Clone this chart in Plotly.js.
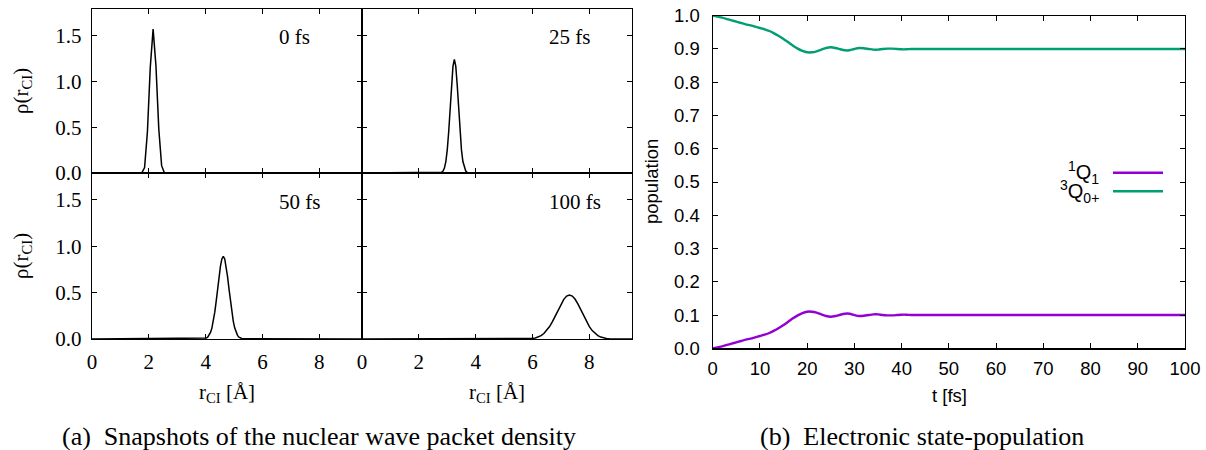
<!DOCTYPE html>
<html>
<head>
<meta charset="utf-8">
<script src="https://cdn.plot.ly/plotly-3.0.1.min.js"></script>
<style>html,body{margin:0;padding:0;background:#fff;}#plot{width:1206px;height:450px;}</style>
</head>
<body>
<div id="plot"></div>
<script>
// ---------- Data: wave packet snapshots ----------
const r0fs   = [0, 1.75, 1.85, 1.95, 2.05, 2.15, 2.25, 2.35, 2.45, 2.55, 9.5];
const rho0fs = [0, 0.00, 0.06, 0.45, 1.15, 1.57, 1.17, 0.48, 0.08, 0.00, 0];

const r25fs   = [0, 2.75, 2.80, 2.85, 2.90, 2.95, 3.00, 3.05, 3.10, 3.15, 3.20, 3.25, 3.30, 3.35, 3.40, 3.45, 3.50, 3.55, 3.60, 3.65, 3.70, 3.75, 9.5];
const rho25fs = [0, 0.000, 0.007, 0.021, 0.054, 0.125, 0.252, 0.447, 0.699, 0.961, 1.163, 1.240, 1.163, 0.961, 0.699, 0.447, 0.252, 0.125, 0.054, 0.021, 0.007, 0.000, 0];

const r50fs   = [0, 3.92, 3.97, 4.02, 4.07, 4.12, 4.17, 4.22, 4.27, 4.32, 4.37, 4.42, 4.47, 4.52, 4.57, 4.62, 4.67, 4.72, 4.77, 4.82, 4.87, 4.92, 4.97, 5.02, 5.07, 5.12, 5.17, 5.22, 5.27, 5.32, 9.5];
const rho50fs = [0, 0.002, 0.005, 0.010, 0.020, 0.039, 0.071, 0.120, 0.193, 0.289, 0.408, 0.540, 0.672, 0.785, 0.863, 0.890, 0.863, 0.785, 0.672, 0.540, 0.408, 0.289, 0.193, 0.120, 0.071, 0.039, 0.020, 0.010, 0.005, 0.002, 0];

const r100fs   = [0, 5.8, 5.9, 6.0, 6.1, 6.2, 6.3, 6.4, 6.5, 6.6, 6.7, 6.8, 6.9, 7.0, 7.1, 7.2, 7.3, 7.4, 7.5, 7.6, 7.7, 7.8, 7.9, 8.0, 8.1, 8.2, 8.3, 8.4, 8.5, 8.6, 8.7, 8.8, 9.5];
const rho100fs = [0, 0.001, 0.003, 0.006, 0.011, 0.021, 0.036, 0.059, 0.091, 0.134, 0.187, 0.249, 0.314, 0.376, 0.428, 0.463, 0.475, 0.463, 0.428, 0.376, 0.314, 0.249, 0.187, 0.134, 0.091, 0.059, 0.036, 0.021, 0.011, 0.006, 0.003, 0.001, 0];

const snapshotLabels = ["0 fs", "25 fs", "50 fs", "100 fs"];
const rTicks = [0, 2, 4, 6, 8];
const rhoTicks = [0, 0.5, 1.0, 1.5];

// ---------- Data: state populations ----------
const tFs = [0,1,2,3,4,5,6,7,8,9,10,11,12,13,14,15,16,17,18,19,20,21,22,23,24,25,26,27,28,29,30,31,32,33,34,35,36,37,38,39,40,41,42,43,44,45,50,55,60,65,70,75,80,85,90,95,100];
const pop1Q1 = [0.000,0.003,0.006,0.010,0.014,0.018,0.022,0.026,0.029,0.033,0.037,0.041,0.046,0.053,0.061,0.070,0.080,0.090,0.099,0.106,0.110,0.110,0.107,0.102,0.097,0.095,0.097,0.101,0.104,0.104,0.100,0.097,0.098,0.100,0.102,0.102,0.100,0.099,0.099,0.100,0.101,0.101,0.100,0.100,0.100,0.100,0.100,0.100,0.100,0.100,0.100,0.100,0.100,0.100,0.100,0.100,0.100];
const pop3Q0 = [1.000,0.997,0.994,0.990,0.986,0.982,0.978,0.974,0.971,0.967,0.963,0.959,0.954,0.947,0.939,0.930,0.920,0.910,0.901,0.894,0.890,0.890,0.893,0.898,0.903,0.905,0.903,0.899,0.896,0.896,0.900,0.903,0.902,0.900,0.898,0.898,0.900,0.901,0.901,0.900,0.899,0.899,0.900,0.900,0.900,0.900,0.900,0.900,0.900,0.900,0.900,0.900,0.900,0.900,0.900,0.900,0.900];
const popTicks = [0,0.1,0.2,0.3,0.4,0.5,0.6,0.7,0.8,0.9,1.0];
const tTicks = [0,10,20,30,40,50,60,70,80,90,100];
const stateNames = ["<sup>1</sup>Q<sub>1</sub>", "<sup>3</sup>Q<sub>0+</sub>"];

// ---------- Layout helpers ----------
const W = 1206, H = 450;
const px = v => v / W;
const py = v => 1 - v / H;
const serif = "Liberation Serif";
const sans = "Liberation Sans";

const blackLine = {color: "#000", width: 1.5};
const traces = [
  {x: r0fs,   y: rho0fs,   xaxis: "x",  yaxis: "y",  mode: "lines", line: blackLine, showlegend: false},
  {x: r25fs,  y: rho25fs,  xaxis: "x2", yaxis: "y2", mode: "lines", line: blackLine, showlegend: false},
  {x: r50fs,  y: rho50fs,  xaxis: "x3", yaxis: "y3", mode: "lines", line: blackLine, showlegend: false},
  {x: r100fs, y: rho100fs, xaxis: "x4", yaxis: "y4", mode: "lines", line: blackLine, showlegend: false},
  {x: tFs, y: pop1Q1, xaxis: "x5", yaxis: "y5", mode: "lines", line: {color: "#9400D3", width: 2.4, shape: "spline", smoothing: 0.6}, showlegend: false},
  {x: tFs, y: pop3Q0, xaxis: "x5", yaxis: "y5", mode: "lines", line: {color: "#009E73", width: 2.4, shape: "spline", smoothing: 0.6}, showlegend: false}
];

function baseAxis(extra) {
  return Object.assign({
    showline: true, linecolor: "#000", linewidth: 1.3, mirror: "allticks",
    ticks: "inside", ticklen: 5, tickwidth: 1, tickcolor: "#000",
    showgrid: false, zeroline: false, fixedrange: true
  }, extra);
}
const leftX = (dom, show) => baseAxis({domain: dom, range: [0, 9.5], tickvals: rTicks, showticklabels: show,
  tickfont: {family: serif, size: 21, color: "#000"}, ticklabelstandoff: 3});
const leftY = (dom, show) => baseAxis({domain: dom, range: [0, 1.79], tickvals: rhoTicks, tickformat: ".1f", showticklabels: show,
  tickfont: {family: serif, size: 21, color: "#000"}, ticklabelstandoff: 5});

const dxL = [px(92), px(362)], dxR = [px(362), px(632)];
const dyT = [py(173), py(9)], dyB = [py(339), py(173)];

const layout = {
  width: W, height: H,
  margin: {l: 0, r: 0, t: 0, b: 0, pad: 0},
  paper_bgcolor: "#fff", plot_bgcolor: "rgba(0,0,0,0)",
  showlegend: false,
  font: {family: serif, color: "#000"},
  xaxis:  Object.assign(leftX(dxL, false), {anchor: "y"}),
  yaxis:  Object.assign(leftY(dyT, true),  {anchor: "x"}),
  xaxis2: Object.assign(leftX(dxR, false), {anchor: "y2"}),
  yaxis2: Object.assign(leftY(dyT, false), {anchor: "x2"}),
  xaxis3: Object.assign(leftX(dxL, true),  {anchor: "y3"}),
  yaxis3: Object.assign(leftY(dyB, true),  {anchor: "x3"}),
  xaxis4: Object.assign(leftX(dxR, true),  {anchor: "y4"}),
  yaxis4: Object.assign(leftY(dyB, false), {anchor: "x4"}),
  xaxis5: baseAxis({anchor: "y5", domain: [px(712.7), px(1185)], range: [0, 100], tickvals: tTicks,
    tickfont: {family: sans, size: 18.5, color: "#000"}, ticklabelstandoff: 3, linewidth: 1.2}),
  yaxis5: baseAxis({anchor: "x5", domain: [py(348.3), py(15.7)], range: [0, 1.0], tickvals: popTicks, tickformat: ".1f",
    tickfont: {family: sans, size: 18.5, color: "#000"}, ticklabelstandoff: 8, linewidth: 1.2}),
  annotations: [],
  shapes: []
};

// snapshot labels
const snapAxes = [["x","y"],["x2","y2"],["x3","y3"],["x4","y4"]];
snapshotLabels.forEach((t, i) => {
  layout.annotations.push({text: t, xref: snapAxes[i][0], yref: snapAxes[i][1], x: 6.5, y: 1.48,
    xanchor: "left", yanchor: "middle", showarrow: false, font: {family: serif, size: 21, color: "#000"}});
});
// left axis titles
[91, 256].forEach(yc => layout.annotations.push({text: "ρ(r<sub>CI</sub>)", xref: "paper", yref: "paper",
  x: px(22), y: py(yc), xanchor: "center", yanchor: "middle", textangle: -90, showarrow: false,
  font: {family: serif, size: 21, color: "#000"}}));
[227, 497].forEach(xc => layout.annotations.push({text: "r<sub>CI</sub> [Å]", xref: "paper", yref: "paper",
  x: px(xc), y: py(393), xanchor: "center", yanchor: "middle", showarrow: false,
  font: {family: serif, size: 21, color: "#000"}}));
// right axis titles
layout.annotations.push({text: "population", xref: "paper", yref: "paper", x: px(652), y: py(182),
  xanchor: "center", yanchor: "middle", textangle: -90, showarrow: false, font: {family: sans, size: 18.5, color: "#000"}});
layout.annotations.push({text: "t [fs]", xref: "paper", yref: "paper", x: px(949), y: py(395),
  xanchor: "center", yanchor: "middle", showarrow: false, font: {family: sans, size: 18.5, color: "#000"}});
// captions
layout.annotations.push({text: "(a)  Snapshots of the nuclear wave packet density", xref: "paper", yref: "paper",
  x: px(60), y: py(436), xanchor: "left", yanchor: "middle", showarrow: false, font: {family: serif, size: 26, color: "#000"}});
layout.annotations.push({text: "(b)  Electronic state-population", xref: "paper", yref: "paper",
  x: px(758), y: py(436), xanchor: "left", yanchor: "middle", showarrow: false, font: {family: serif, size: 26, color: "#000"}});
// legend
const legY = [172.7, 191.3];
const legCol = ["#9400D3", "#009E73"];
stateNames.forEach((n, i) => {
  layout.annotations.push({text: n, xref: "paper", yref: "paper", x: px(1101), y: py(legY[i]),
    xanchor: "right", yanchor: "middle", showarrow: false, font: {family: sans, size: 20, color: "#000"}});
  layout.shapes.push({type: "line", xref: "paper", yref: "paper", x0: px(1113), x1: px(1163), y0: py(legY[i]), y1: py(legY[i]),
    line: {color: legCol[i], width: 2.4}});
});

Plotly.newPlot("plot", traces, layout, {staticPlot: true, displayModeBar: false});
</script>
</body>
</html>
